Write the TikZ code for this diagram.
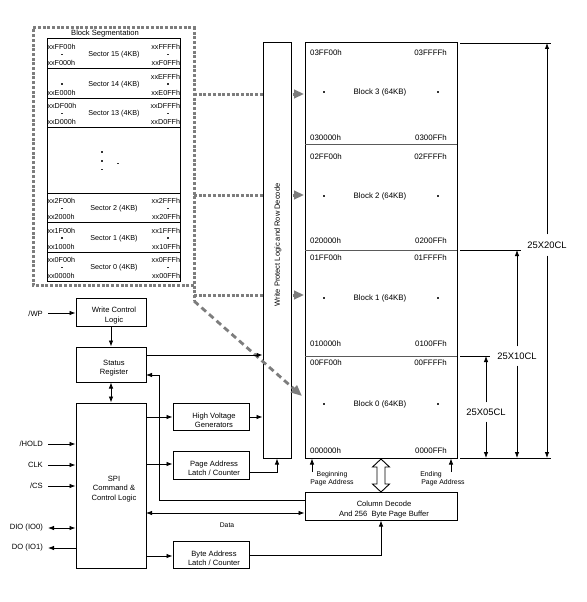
\documentclass[tikz,border=0pt]{standalone}
\usepackage{fontspec}
\setmainfont{Liberation Sans}
\usetikzlibrary{arrows.meta}
\definecolor{dotgray}{RGB}{125,125,125}
\definecolor{divgray}{RGB}{90,90,90}
\newcommand\mysector[7]{%
  \node[secbox] (#1) at (113.5,{#2+14.75}) {};
  \node[anchor=west,font=\fontsize{7.2}{8}\selectfont] (#1tl) at (47.3,{#2+8.3}) {#4};
  \node[dotmark] (#1dl) at (62,{#2+15.5}) {};
  \node[anchor=west,font=\fontsize{7.2}{8}\selectfont] (#1bl) at (47.3,{#2+24.2}) {#5};
  \node[font=\fontsize{7.2}{8}\selectfont] (#1t) at (114,{#2+16}) {#3};
  \node[anchor=east,font=\fontsize{7.2}{8}\selectfont] (#1tr) at (180.3,{#2+8.3}) {#6};
  \node[dotmark] (#1dr) at (168,{#2+15.5}) {};
  \node[anchor=east,font=\fontsize{7.2}{8}\selectfont] (#1br) at (180.3,{#2+24.2}) {#7};
}
\newcommand\myblock[9]{%
  \node[anchor=west,memfont] (#1tl) at (310,#2) {#5};
  \node[anchor=east,memfont] (#1tr) at (447,#2) {#6};
  \node[dotmark] (#1dl) at (324,#3) {};
  \node[memfont] (#1t) at (380,#3) {#9};
  \node[dotmark] (#1dr) at (438,#3) {};
  \node[anchor=west,memfont] (#1bl) at (310,#4) {#7};
  \node[anchor=east,memfont] (#1br) at (447,#4) {#8};
}
\begin{document}
\begin{tikzpicture}[x=1pt,y=-1pt,
  every node/.style={inner sep=0pt, font=\fontsize{7.6}{9.4}\selectfont},
  memfont/.style={font=\fontsize{7.9}{9.4}\selectfont},
  dotmark/.style={fill=black!80, minimum size=1.3pt, inner sep=0pt, outer sep=0pt},
  blockbox/.style={draw, line width=1pt, fill=white},
  boxtext/.style={align=center, xshift=3pt, yshift=-3.5pt},
  secbox/.style={draw, line width=1pt, minimum width=133pt, minimum height=29.5pt},
  arr/.style={-{Latex[length=6pt,width=4.5pt]}, line width=0.8pt},
  darr/.style={{Latex[length=6pt,width=4.5pt]}-{Latex[length=6pt,width=4.5pt]}, line width=0.8pt},
  gdot/.style={dotgray, line width=3pt, dash pattern=on 3pt off 1.7pt},
  garr/.style={gdot, -{Triangle[length=10pt,width=8.5pt]}},
  gdash/.style={dotgray, line width=2.8pt, dash pattern=on 6pt off 4pt, -{Triangle[length=11pt,width=9pt]}},
  dimtext/.style={fill=white, font=\fontsize{9.4}{11}\selectfont, inner xsep=1pt},
  divider/.style={divgray, line width=0.8pt}]
\useasboundingbox (0,0) rectangle (586,602);
\fill[white] (0,0) rectangle (586,602);

% ---------- block segmentation ----------
\draw[gdot] (194,285) -- (33,285) -- (33,28) -- (194,28) -- (194,301);
\node (segtitle) at (105,33.5) {Block Segmentation};
\mysector{s15}{39}{Sector 15 (4KB)}{xxFF00h}{xxF000h}{xxFFFFh}{xxF0FFh}
\mysector{s14}{68.5}{Sector 14 (4KB)}{}{xxE000h}{xxEFFFh}{xxE0FFh}
\mysector{s13}{98}{Sector 13 (4KB)}{xxDF00h}{xxD000h}{xxDFFFh}{xxD0FFh}
\node[secbox, minimum height=65.5pt] (smid) at (113.5,160.25) {};
\node[dotmark] (mdot1) at (102,152) {};
\node[dotmark] (mdot2) at (102,161) {};
\node[dotmark] (mdot3) at (102,169.5) {};
\node[dotmark] (mdot4) at (118,163.5) {};
\mysector{s2}{193}{Sector 2 (4KB)}{xx2F00h}{xx2000h}{xx2FFFh}{xx20FFh}
\mysector{s1}{222.5}{Sector 1 (4KB)}{xx1F00h}{xx1000h}{xx1FFFh}{xx10FFh}
\mysector{s0}{252}{Sector 0 (4KB)}{xx0F00h}{xx0000h}{xx0FFFh}{xx00FFh}

% grey dotted arrows (behind the WP box)
\coordinate (g1s) at (194,94);
\coordinate (g1e) at (304,94);
\coordinate (g2s) at (194,195);
\coordinate (g2e) at (304,195);
\coordinate (g3s) at (194,295);
\coordinate (g3e) at (304,295);
\draw[garr] (g1s) -- (g1e);
\draw[garr] (g2s) -- (g2e);
\draw[garr] (g3s) -- (g3e);

% ---------- write protect / row decode ----------
\node[blockbox, minimum width=28pt, minimum height=415pt] (wp) at (277,250.5) {};
\node[rotate=90, font=\fontsize{7.5}{9}\selectfont] (wptext) at (278,245) {Write Protect Logic and Row Decode};

% ---------- memory array ----------
\node[blockbox, minimum width=152pt, minimum height=415pt] (mem) at (381,250.5) {};
\coordinate (dv1l) at (305,144); \coordinate (dv1r) at (457,144);
\coordinate (dv2l) at (305,250); \coordinate (dv2r) at (457,250);
\coordinate (dv3l) at (305,356); \coordinate (dv3r) at (457,356);
\draw[divider] (dv1l) -- (dv1r);
\draw[divider] (dv2l) -- (dv2r);
\draw[divider] (dv3l) -- (dv3r);
\myblock{b3}{53}{92}{138}{03FF00h}{03FFFFh}{030000h}{0300FFh}{Block 3 (64KB)}
\myblock{b2}{157}{196}{241}{02FF00h}{02FFFFh}{020000h}{0200FFh}{Block 2 (64KB)}
\myblock{b1}{258}{298}{344}{01FF00h}{01FFFFh}{010000h}{0100FFh}{Block 1 (64KB)}
\myblock{b0}{363}{404}{451}{00FF00h}{00FFFFh}{000000h}{0000FFh}{Block 0 (64KB)}

% diagonal dashed arrow (over the WP box)
\coordinate (diagS) at (194,301);
\coordinate (diagE) at (302,396);
\draw[gdash] (diagS) -- (diagE);

% ---------- dimension lines ----------
\coordinate (e1a) at (460,43);  \coordinate (e1b) at (551,43);
\coordinate (e2a) at (460,250); \coordinate (e2b) at (521,250);
\coordinate (e3a) at (460,356); \coordinate (e3b) at (490,356);
\coordinate (e4a) at (460,458); \coordinate (e4b) at (551,458);
\draw[line width=0.8pt] (e1a) -- (e1b);
\draw[line width=0.8pt] (e2a) -- (e2b);
\draw[line width=0.8pt] (e3a) -- (e3b);
\draw[line width=0.8pt] (e4a) -- (e4b);
\node[dimtext, inner ysep=7pt] (d20) at (547,245) {25X20CL};
\node[dimtext, inner ysep=6pt] (d10) at (517,356) {25X10CL};
\node[dimtext, inner ysep=6pt] (d05) at (486,412) {25X05CL};
\coordinate (d20t) at (547,43);  \coordinate (d20b) at (547,458);
\coordinate (d10t) at (517,250); \coordinate (d10b) at (517,458);
\coordinate (d05t) at (486,356); \coordinate (d05b) at (486,458);
\draw[arr] (d20) -- (d20t);
\draw[arr] (d20) -- (d20b);
\draw[arr] (d10) -- (d10t);
\draw[arr] (d10) -- (d10b);
\draw[arr] (d05) -- (d05t);
\draw[arr] (d05) -- (d05b);

% ---------- control blocks ----------
\node[blockbox, minimum width=70pt, minimum height=28pt] (wcl) at (111,312) {};
\node[boxtext] (wclt) at (wcl.center) {Write Control\\Logic};
\node[blockbox, minimum width=70pt, minimum height=35pt] (sr) at (111,364.5) {};
\node[boxtext] (srt) at (sr.center) {Status\\Register};
\node[blockbox, minimum width=70pt, minimum height=165pt] (spi) at (111,485.5) {};
\node[boxtext] (spit) at (spi.center) {SPI\\Command \&\\Control Logic};
\node[blockbox, minimum width=76pt, minimum height=27pt] (hvg) at (211,416.5) {};
\node[boxtext] (hvgt) at (hvg.center) {High Voltage\\Generators};
\node[blockbox, minimum width=76pt, minimum height=28pt] (pal) at (211,465) {};
\node[boxtext] (palt) at (pal.center) {Page Address\\Latch / Counter};
\node[blockbox, minimum width=76pt, minimum height=27pt] (bal) at (211,554.5) {};
\node[boxtext] (balt) at (bal.center) {Byte Address\\Latch / Counter};
\node[blockbox, minimum width=152pt, minimum height=28pt] (cd) at (381,506) {};
\node[boxtext] (cdt) at (cd.center) {Column Decode\\And 256\ \ Byte Page Buffer};

% ---------- inputs ----------
\node[anchor=east] (lwp) at (43,314) {/WP};
\node[anchor=east] (lhold) at (43,444) {/HOLD};
\node[anchor=east] (lclk) at (43,465) {CLK};
\node[anchor=east] (lcs) at (43,486) {/CS};
\node[anchor=east] (ldio) at (43,528) {DIO (IO0)};
\node[anchor=east] (ldo) at (43,548) {DO (IO1)};
\coordinate (iwp) at (48,313);
\coordinate (ihold) at (48,444);
\coordinate (iclk) at (48,465);
\coordinate (ics) at (48,486);
\coordinate (idio) at (48,528);
\coordinate (ido) at (48,548);
\draw[arr] (iwp) -- (iwp -| wcl.west);
\draw[arr] (ihold) -- (ihold -| spi.west);
\draw[arr] (iclk) -- (iclk -| spi.west);
\draw[arr] (ics) -- (ics -| spi.west);
\draw[darr] (idio) -- (idio -| spi.west);
\draw[arr] (ido -| spi.west) -- (ido);

% ---------- internal connectors ----------
\draw[arr] (wcl) -- (sr);
\draw[darr] (sr) -- (spi);
\coordinate (srout) at (146,355);
\draw[arr] (srout) -- (srout -| wp.west);
\coordinate (hvin) at (146,417);
\draw[arr] (hvin) -- (hvin -| hvg.west);
\draw[arr] (hvg.east |- hvin) -- (hvin -| wp.west);
\coordinate (palin) at (146,464);
\draw[arr] (palin) -- (palin -| pal.west);
\coordinate (palout) at (249,472);
\draw[arr] (palout) -- (277,472) -- (wp.south);
\coordinate (balin) at (146,556);
\draw[arr] (balin) -- (balin -| bal.west);
\coordinate (balout) at (249,555);
\draw[arr] (balout) -- (381,555) -- (cd.south);
\coordinate (dataL) at (146,513);
\draw[darr] (dataL) -- (dataL -| cd.west);
\node (datat) at (227,525) {\fontsize{6.8}{8}\selectfont Data};
\coordinate (fbk) at (305,500);
\draw[arr] (fbk) -- (159,500) -- (159,375) -- (146,375);

% hollow double arrow
\draw[line width=0.9pt, fill=white] (381,459) -- (389.5,467) -- (385,467) -- (385,484) -- (389.5,484) -- (381,492) -- (372.5,484) -- (377,484) -- (377,467) -- (372.5,467) -- cycle;

% page address arrows
\coordinate (bpa) at (312,472);
\coordinate (epa) at (451,472);
\draw[arr] (bpa) -- (bpa |- mem.south);
\draw[arr] (epa) -- (epa |- mem.south);
\node[align=center, font=\fontsize{6.9}{8.2}\selectfont] (bpat) at (332,479) {Beginning\\Page Address};
\node[font=\fontsize{6.9}{8.2}\selectfont] (epat1) at (431,475) {Ending};
\node[font=\fontsize{6.9}{8.2}\selectfont] (epat2) at (443,483) {Page Address};
\end{tikzpicture}
\end{document}
